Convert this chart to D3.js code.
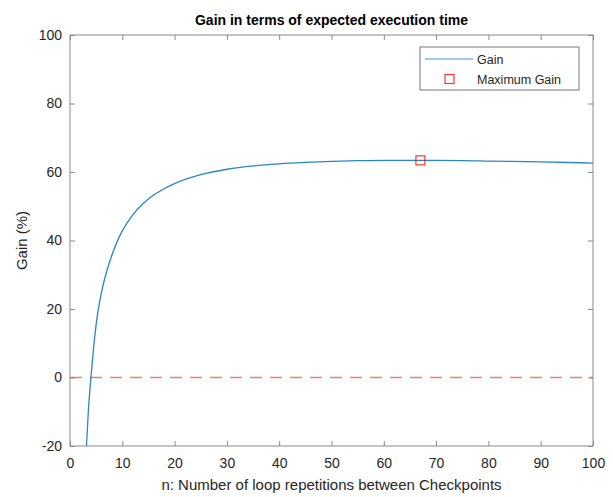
<!DOCTYPE html>
<html>
<head>
<meta charset="utf-8">
<script src="https://cdn.jsdelivr.net/npm/d3@7"></script>
<style>
  body { margin: 0; background: #fff; }
  svg { display: block; font-family: "Liberation Sans", Arial, sans-serif; }
</style>
</head>
<body>
<svg id="chart" width="613" height="497"></svg>
<script>
// loop repetitions between checkpoints
var nValues = [3.15, 3.5, 4, 4.5, 5, 6, 7, 8, 9, 10, 12, 14, 16, 18, 20, 25, 30, 35, 40, 45, 50, 55, 60, 67, 75, 80, 90, 100]
// gain in %
var gainValues = [-20, -10, 0, 8.5, 15.5, 24.7, 30.9, 35.7, 39.6, 42.8, 47.5, 50.8, 53.3, 55.1, 56.6, 59.2, 60.8, 61.8, 62.4, 62.8, 63.1, 63.3, 63.4, 63.4, 63.35, 63.2, 62.95, 62.6]
var maxPoint = [67, 63.4]
var xTicks = [0, 10, 20, 30, 40, 50, 60, 70, 80, 90, 100]
var yTicks = [-20, 0, 20, 40, 60, 80, 100]

var svg = d3.select("#chart")
var plotLeft = 70, plotRight = 593, plotTop = 35, plotBottom = 446

var x = d3.scaleLinear().domain([0, 100]).range([plotLeft, plotRight])
var y = d3.scaleLinear().domain([-20, 100]).range([plotBottom, plotTop])

var axisColor = "#8a8a8a"
var textColor = "#262626"

svg.append("defs").append("clipPath").attr("id", "plot-clip")
   .append("rect")
   .attr("x", plotLeft).attr("y", plotTop)
   .attr("width", plotRight - plotLeft).attr("height", plotBottom - plotTop)

// zero reference line
svg.append("line")
   .attr("x1", x(0)).attr("x2", x(100))
   .attr("y1", y(0)).attr("y2", y(0))
   .attr("stroke", "#D95319")
   .attr("stroke-opacity", 0.7)
   .attr("stroke-width", 1.5)
   .attr("stroke-dasharray", "12,8")

// gain curve
var line = d3.line()
   .x(function (d, i) { return x(nValues[i]) })
   .y(function (d) { return y(d) })
   .curve(d3.curveMonotoneX)

svg.append("path")
   .datum(gainValues)
   .attr("clip-path", "url(#plot-clip)")
   .attr("fill", "none")
   .attr("stroke", "#0072BD")
   .attr("stroke-opacity", 0.85)
   .attr("stroke-width", 1.3)
   .attr("d", line)

// maximum marker
svg.append("rect")
   .attr("x", x(maxPoint[0]) - 4.5).attr("y", y(maxPoint[1]) - 4.5)
   .attr("width", 9).attr("height", 9)
   .attr("fill", "none")
   .attr("stroke", "#ff0000")
   .attr("stroke-opacity", 0.8)
   .attr("stroke-width", 1.2)

// axes: ticks on all four sides, box on
function styleAxis(g) {
    g.select(".domain").remove()
    g.selectAll(".tick line").attr("stroke", axisColor)
    g.selectAll(".tick text")
     .attr("fill", textColor)
     .attr("font-size", 14)
}

var plainFormat = function (d) { return String(d) }

svg.append("g")
   .attr("transform", "translate(0," + plotBottom + ")")
   .call(d3.axisBottom(x).tickValues(xTicks).tickSize(-5).tickPadding(12).tickFormat(plainFormat))
   .call(styleAxis)

svg.append("g")
   .attr("transform", "translate(0," + plotTop + ")")
   .call(d3.axisTop(x).tickValues(xTicks).tickSize(-5).tickFormat(""))
   .call(styleAxis)

svg.append("g")
   .attr("transform", "translate(" + plotLeft + ",0)")
   .call(d3.axisLeft(y).tickValues(yTicks).tickSize(-5).tickPadding(8).tickFormat(plainFormat))
   .call(styleAxis)

svg.append("g")
   .attr("transform", "translate(" + plotRight + ",0)")
   .call(d3.axisRight(y).tickValues(yTicks).tickSize(-5).tickFormat(""))
   .call(styleAxis)

svg.append("rect")
   .attr("x", plotLeft).attr("y", plotTop)
   .attr("width", plotRight - plotLeft).attr("height", plotBottom - plotTop)
   .attr("fill", "none")
   .attr("stroke", axisColor)
   .attr("stroke-width", 1)

// title and labels
svg.append("text")
   .attr("x", (plotLeft + plotRight) / 2).attr("y", 25)
   .attr("text-anchor", "middle")
   .attr("font-size", 14)
   .attr("font-weight", "bold")
   .attr("fill", "#000")
   .text("Gain in terms of expected execution time")

svg.append("text")
   .attr("x", (plotLeft + plotRight) / 2).attr("y", 490)
   .attr("text-anchor", "middle")
   .attr("font-size", 15)
   .attr("fill", textColor)
   .text("n: Number of loop repetitions between Checkpoints")

svg.append("text")
   .attr("transform", "translate(27," + ((plotTop + plotBottom) / 2) + ") rotate(-90)")
   .attr("text-anchor", "middle")
   .attr("font-size", 15)
   .attr("fill", textColor)
   .text("Gain (%)")

// legend
var legend = svg.append("g").attr("transform", "translate(420,47)")
legend.append("rect")
   .attr("width", 159).attr("height", 43)
   .attr("fill", "#fff")
   .attr("stroke", "#777")
   .attr("stroke-width", 1)
legend.append("line")
   .attr("x1", 5).attr("x2", 53)
   .attr("y1", 12).attr("y2", 12)
   .attr("stroke", "#0072BD")
   .attr("stroke-opacity", 0.5)
   .attr("stroke-width", 1.5)
legend.append("rect")
   .attr("x", 25).attr("y", 27.5)
   .attr("width", 9).attr("height", 9)
   .attr("fill", "none")
   .attr("stroke", "#ff0000")
   .attr("stroke-opacity", 0.8)
   .attr("stroke-width", 1.2)
legend.append("text")
   .attr("x", 57).attr("y", 16.5)
   .attr("font-size", 12.5)
   .attr("fill", textColor)
   .text("Gain")
legend.append("text")
   .attr("x", 57).attr("y", 36.5)
   .attr("font-size", 12.5)
   .attr("fill", textColor)
   .text("Maximum Gain")
</script>
</body>
</html>
